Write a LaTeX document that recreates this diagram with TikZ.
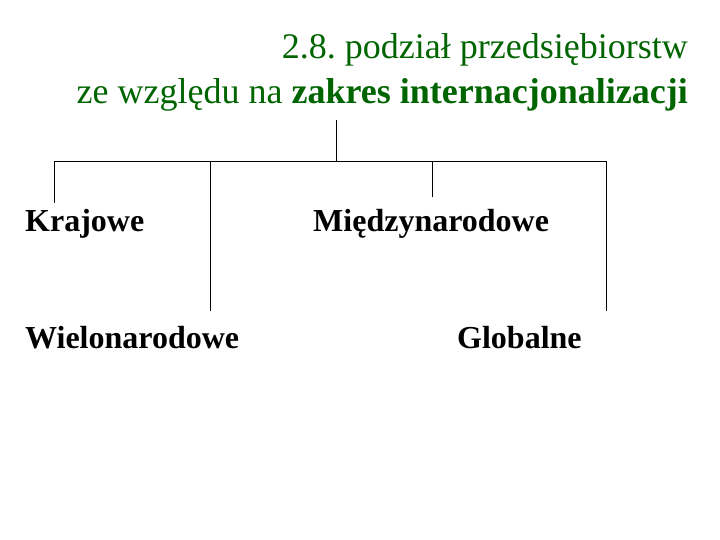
\documentclass[tikz,border=0pt]{standalone}
\usepackage{fontspec}
\setmainfont{Liberation Serif}
\frenchspacing
\definecolor{titlegreen}{RGB}{0,100,0}
\tikzset{
  titletext/.style={anchor=base east, inner sep=0pt, text=titlegreen, font=\fontsize{36}{43}\selectfont},
  kindtext/.style={anchor=base west, inner sep=0pt, font=\bfseries\fontsize{32}{38}\selectfont}
}
\begin{document}
\begin{tikzpicture}[x=1pt,y=-1pt]
\useasboundingbox (0,0) rectangle (720,540);
\node[titletext] (t1) at (688,59) {2.8. podział przedsiębiorstw};
\node[titletext] (t2) at (688,104) {ze względu na \textbf{zakres internacjonalizacji}};
\node[kindtext] (krajowe) at (25,232) {Krajowe};
\node[kindtext] (miedzy) at (313,232) {Międzynarodowe};
\node[kindtext] (wielo) at (25,348) {Wielonarodowe};
\node[kindtext] (globalne) at (457,348) {Globalne};
\coordinate (root) at (336,120);
\coordinate (hub) at (336,162);
\coordinate (bl) at (54,162);
\coordinate (bw) at (210,162);
\coordinate (bm) at (432,162);
\coordinate (br) at (606,162);
\coordinate (k) at (54,203);
\coordinate (w) at (210,311);
\coordinate (m) at (432,197);
\coordinate (g) at (606,311);
\draw[line width=1pt] (k) -- (bl) -- (br) -- (g);
\path[draw, line width=1pt]
(root) edge (hub)
(bw) edge (w)
(bm) edge (m);
\end{tikzpicture}
\end{document}
